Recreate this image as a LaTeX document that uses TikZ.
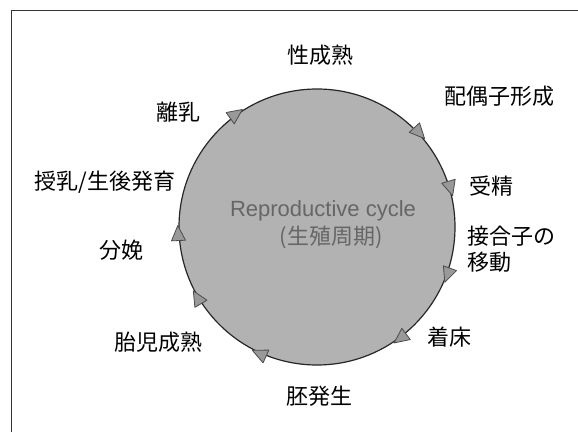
\documentclass[tikz,border=0pt]{standalone}
\usepackage{fontspec}
\setmainfont{Noto Sans CJK JP}
\newfontfamily\latinfont{Liberation Sans}
\begin{document}
\begin{tikzpicture}[x=1pt,y=1pt,
  lbl/.style={inner sep=0pt, font=\fontsize{22}{26.5}\selectfont, text=black},
  ctr/.style={inner sep=0pt, font=\fontsize{22}{26.5}\selectfont, text=black!60},
  tri/.style={fill=black!40, draw=black!70, line width=0.8pt, line join=round},
  frame/.style={draw=black!80, line width=1pt}]
\useasboundingbox (0,0) rectangle (578,432);
\draw[frame] (11,0) -- (11,421) -- (578,421);
% cycle circle
\node[circle, minimum size=276pt, inner sep=0pt, fill=black!30, draw=black!85, line width=1.2pt] (cyc) at (317,205) {};
% arrowheads (clockwise)
\foreach \a in {125.7,42.7,16.3,-20.1,-53.1,-114.4,-149.4,-177.3}{
  \begin{scope}[shift={(cyc.center)}, shift={(\a:139)}, rotate=\a-90]
    \filldraw[tri] (8,0) -- (-7,7) -- (-7,-7) -- cycle;
  \end{scope}
}
% centre text
\node[ctr, font=\latinfont\fontsize{22}{26.5}\selectfont] (t1) at (323,221) {Reproductive cycle};
\node[ctr] (t2) at (331,194.5) {(生殖周期)};
% stage labels
\node[lbl] (s1) at (320,377) {性成熟};
\node[lbl] (s2) at (499,336) {配偶子形成};
\node[lbl] (s3) at (491,246) {受精};
\node[lbl, anchor=west, align=left] (s4) at (467,183) {接合子の\\移動};
\node[lbl] (s5) at (449,95) {着床};
\node[lbl] (s6) at (319,36) {胚発生};
\node[lbl] (s7) at (158,90) {胎児成熟};
\node[lbl] (s8) at (121,182) {分娩};
\node[lbl] (s9) at (105,250) {授乳/生後発育};
\node[lbl] (s10) at (178.5,320) {離乳};
\end{tikzpicture}
\end{document}
